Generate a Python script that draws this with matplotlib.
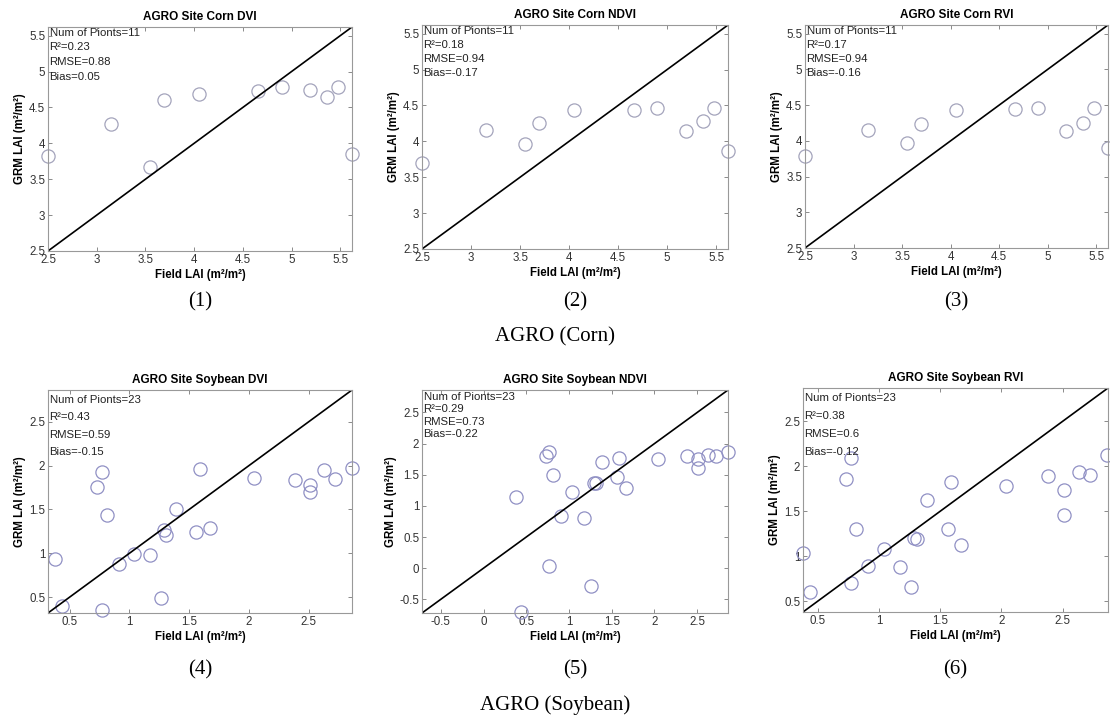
import matplotlib.pyplot as plt

plt.rcParams["font.family"] = ["Liberation Sans", "DejaVu Sans"]

W, H = 1110, 719

# field LAI shared across the three panels of each crop
corn_field = [2.50, 3.15, 3.55, 3.69, 4.05, 4.66, 4.90, 5.19, 5.36, 5.48, 5.62]
corn_dvi = [3.83, 4.27, 3.67, 4.60, 4.68, 4.73, 4.78, 4.74, 4.65, 4.78, 3.85]
corn_ndvi = [3.70, 4.16, 3.96, 4.25, 4.43, 4.43, 4.46, 4.15, 4.28, 4.46, 3.86]
corn_rvi = [3.79, 4.15, 3.97, 4.24, 4.43, 4.44, 4.46, 4.13, 4.25, 4.46, 3.90]

soy_field = [0.38, 0.44, 0.73, 0.77, 0.77, 0.81, 0.91, 1.04, 1.17, 1.26, 1.29, 1.31,
             1.39, 1.56, 1.59, 1.67, 2.04, 2.38, 2.51, 2.51, 2.63, 2.72, 2.86]
soy_dvi = [0.94, 0.40, 1.76, 1.93, 0.35, 1.44, 0.88, 0.99, 0.98, 0.49, 1.26, 1.21,
           1.51, 1.24, 1.96, 1.29, 1.86, 1.83, 1.78, 1.70, 1.95, 1.85, 1.97]
soy_ndvi = [1.15, -0.71, 1.80, 1.87, 0.04, 1.49, 0.84, 1.23, 0.80, -0.28, 1.37, 1.36,
            1.71, 1.47, 1.77, 1.29, 1.76, 1.80, 1.76, 1.60, 1.81, 1.80, 1.87]
soy_rvi = [1.04, 0.60, 1.86, 2.09, 0.70, 1.30, 0.89, 1.08, 0.88, 0.66, 1.20, 1.19,
           1.63, 1.30, 1.82, 1.13, 1.78, 1.89, 1.74, 1.46, 1.94, 1.90, 2.12]

titles = ["AGRO Site Corn DVI", "AGRO Site Corn NDVI", "AGRO Site Corn RVI",
          "AGRO Site Soybean DVI", "AGRO Site Soybean NDVI", "AGRO Site Soybean RVI"]
n_points = [11, 11, 11, 23, 23, 23]
r2 = ["0.23", "0.18", "0.17", "0.43", "0.29", "0.38"]
rmse = ["0.88", "0.94", "0.94", "0.59", "0.73", "0.6"]
bias = ["0.05", "-0.17", "-0.16", "-0.15", "-0.22", "-0.12"]
limits = [(2.5, 5.62), (2.5, 5.62), (2.5, 5.62),
          (0.32, 2.86), (-0.72, 2.86), (0.38, 2.87)]
captions = ["(1)", "(2)", "(3)", "(4)", "(5)", "(6)"]

series = [(corn_field, corn_dvi), (corn_field, corn_ndvi), (corn_field, corn_rvi),
          (soy_field, soy_dvi), (soy_field, soy_ndvi), (soy_field, soy_rvi)]

# axes boxes in pixels: left, top, right, bottom
boxes = [(48, 27, 352, 251), (422, 25, 728, 249), (805, 25, 1108, 248),
         (48, 390, 352, 613), (422, 390, 728, 613), (803, 388, 1108, 612)]
# stats text: first line offset and line spacing in pixels
text_layout = [(6, 14.5), (6, 14), (6, 14), (10, 17.5), (7, 12.5), (10, 18)]

fig = plt.figure(figsize=(W / 100, H / 100), dpi=100)

for i in range(6):
    l, t, r, b = boxes[i]
    ax = fig.add_axes([l / W, 1 - b / H, (r - l) / W, (b - t) / H])
    x, y = series[i]
    lo, hi = limits[i]
    mcol = "#a4a4bc" if i < 3 else "#9090c4"
    ax.plot(x, y, "o", ms=9.5, mfc="none", mec=mcol, mew=0.9, clip_on=False)
    ax.plot([lo, hi], [lo, hi], color="black", lw=1.2)
    ax.set_xlim(lo, hi)
    ax.set_ylim(lo, hi)
    start = -0.5 if lo < 0 else 0.5
    ticks = [v / 2 for v in range(int(start * 2), int(hi * 2) + 1) if lo <= v / 2 <= hi]
    ax.set_xticks(ticks)
    ax.set_yticks(ticks)
    ax.set_xticklabels([f"{v:g}" for v in ticks])
    ax.set_yticklabels([f"{v:g}" for v in ticks])
    ax.tick_params(direction="in", length=3, width=0.6, color="#777777",
                   labelsize=8.3, labelcolor="#333333", top=True, right=True, pad=2)
    for s in ax.spines.values():
        s.set_color("#999999")
        s.set_linewidth(0.8)
    ax.set_title(titles[i], fontsize=8.5, fontweight="bold", pad=5)
    ax.set_xlabel("Field LAI (m²/m²)", fontsize=8.3, fontweight="bold", labelpad=2)
    ax.set_ylabel("GRM LAI (m²/m²)", fontsize=8.3, fontweight="bold", labelpad=2)

    off, sp = text_layout[i]
    lines = [f"Num of Pionts={n_points[i]}", f"R²={r2[i]}",
             f"RMSE={rmse[i]}", f"Bias={bias[i]}"]
    hpx = b - t
    for k, s in enumerate(lines):
        ax.text(0.005, 1 - (off + k * sp) / hpx, s, transform=ax.transAxes,
                fontsize=8.2, color="#222222", va="center", ha="left")

    cx = (l + r) / 2
    cy = 302 if i < 3 else 670
    fig.text(cx / W, 1 - cy / H, captions[i], fontsize=15,
             family="Liberation Serif", ha="center", va="center")

fig.text(555 / W, 1 - 337 / H, "AGRO (Corn)", fontsize=15,
         family="Liberation Serif", ha="center", va="center")
fig.text(555 / W, 1 - 705 / H, "AGRO (Soybean)", fontsize=15,
         family="Liberation Serif", ha="center", va="center")

fig.savefig("out.png", dpi=100)
